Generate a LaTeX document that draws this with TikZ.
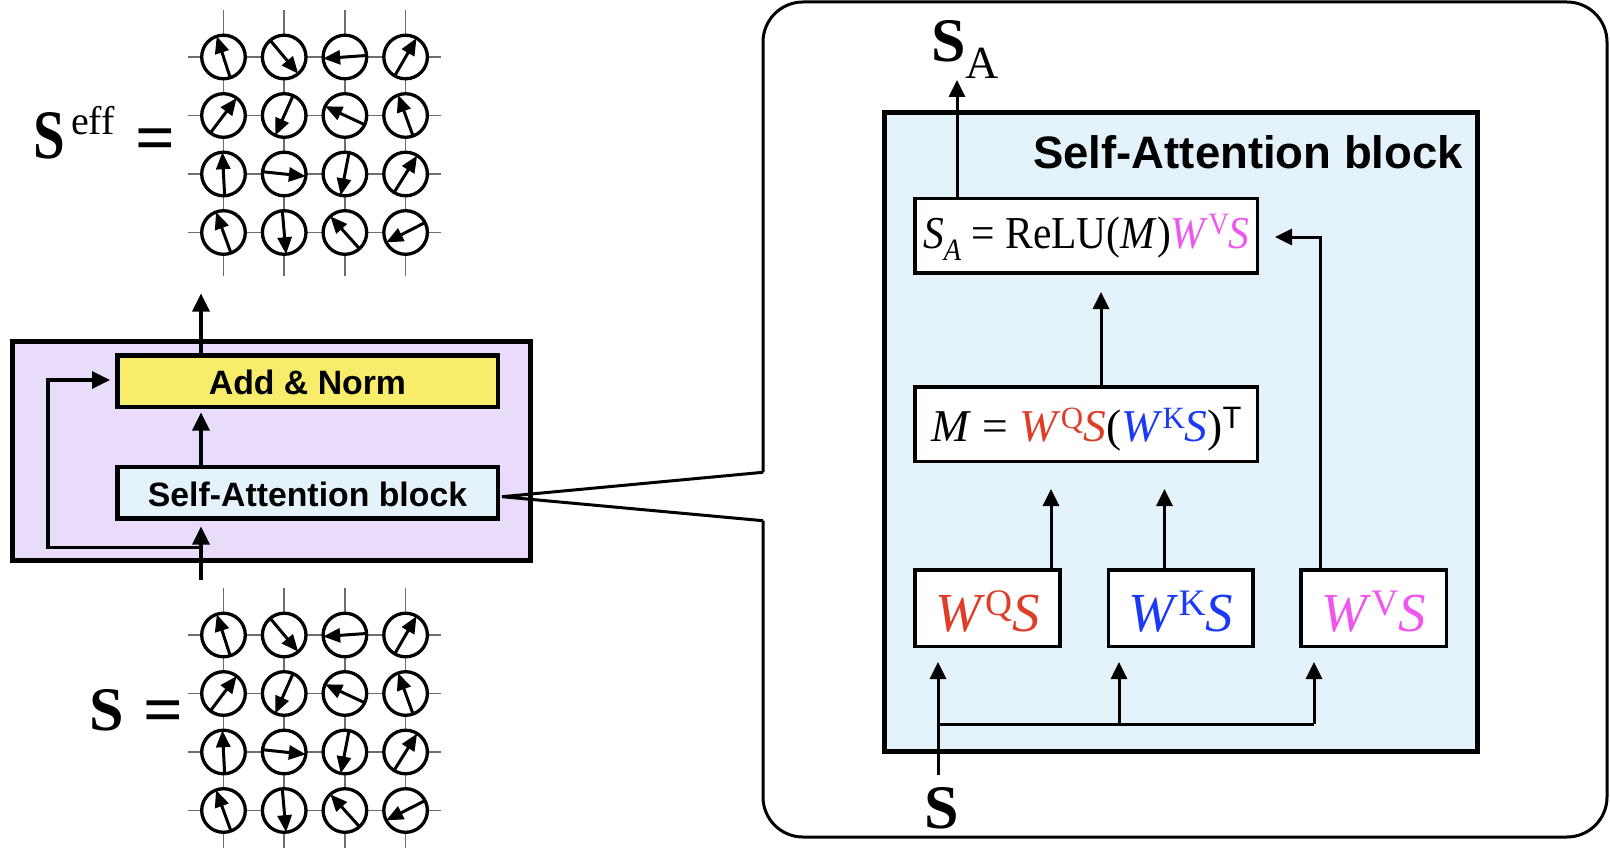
\documentclass[tikz,border=0pt]{standalone}
\usepackage{fontspec}
\setmainfont{Liberation Serif}
\setsansfont{Liberation Sans}
\usetikzlibrary{arrows.meta}

\definecolor{layerfill}{RGB}{233,219,250}
\definecolor{blockfill}{RGB}{228,242,252}
\definecolor{normfill}{RGB}{248,236,107}
\definecolor{qred}{RGB}{222,62,40}
\definecolor{kblue}{RGB}{26,58,245}
\definecolor{vmag}{RGB}{238,86,238}
\definecolor{gridgray}{RGB}{110,110,110}

\newcommand\fsz[1]{\fontsize{#1}{#1}\selectfont}
\newcommand\upidx[1]{\raisebox{0.3em}{\scalebox{0.68}{#1}}}
\newcommand\dnidx[1]{\raisebox{-0.26em}{\scalebox{0.68}{#1}}}

% 4x4 lattice of spins; #1 = y of the first row
\newcommand\spingrid[1]{%
  \foreach \c in {0,1,2,3} {
    \draw[gridline] ({223.5+60.7*\c},{#1-47}) -- ({223.5+60.7*\c},{#1+175.5+43});
  }
  \foreach \r in {0,1,2,3} {
    \draw[gridline] (188,{#1+58.5*\r}) -- (441,{#1+58.5*\r});
  }
  \foreach \r/\angs in {0/{108,-50,184,60},1/{53,246,155,110},2/{93,-6,259,58},3/{110,275,132,207}} {
    \foreach \a [count=\c from 0] in \angs {
      \pgfmathsetmacro\b{\a+180}
      \begin{scope}[shift={({223.5+60.7*\c},{#1+58.5*\r})}]
        \draw[spinring] (0,0) circle[radius=21.8pt];
        \draw[spinarrow] (\b:21.8pt) -- (\a:21.8pt);
      \end{scope}
    }
  }
}

\begin{document}
\begin{tikzpicture}[x=1pt,y=-1pt,
  every node/.style={inner sep=0pt, outer sep=0pt},
  gridline/.style={draw=gridgray, line width=1.6pt},
  spinring/.style={draw=black, fill=white, line width=3.3pt},
  spinarrow/.style={line width=3pt, -{Triangle[length=17pt,width=14pt]}},
  lconn/.style={line width=3.4pt},
  larr/.style={lconn, -{Triangle[length=18pt,width=17pt]}},
  rconn/.style={line width=3pt},
  rarr/.style={rconn, -{Triangle[length=17pt,width=16pt]}},
  leftbox/.style={draw, line width=4.5pt, minimum width=380.5, minimum height=51.5,
    text height=27pt, text depth=0pt, font=\sffamily\bfseries\fsz{33.8}},
  calcbox/.style={draw, line width=3.5pt, fill=white, text depth=0pt},
]
\useasboundingbox (0,0) rectangle (1610,848);

% ---------- spin configurations ----------
\spingrid{57}
\spingrid{635}

\node[anchor=base west] (seffS) at (34,158.3) {\scalebox{0.92}[1.12]{\bfseries\fsz{62}S}};
\node[anchor=base west] (seffsup) at (71,135) {\fsz{40}eff};
\node[anchor=base] (seffeq) at (155,161) {\bfseries\fsz{70}=};
\node[anchor=base west] (sS) at (89,730) {\bfseries\fsz{62}S};
\node[anchor=base] (seq) at (163,733.5) {\bfseries\fsz{70}=};

% ---------- transformer layer ----------
\node[draw, line width=5.5pt, fill=layerfill, minimum width=518, minimum height=219] (layer) at (271.5,451) {};
\node[leftbox, fill=normfill] (anorm) at (307.5,381.3) {Add \& Norm};
\node[leftbox, fill=blockfill] (sablk) at (307.5,492.5) {Self-Attention block};

\coordinate (lx) at (201,0);
\coordinate (ltop) at (201,293.5);
\coordinate (lnormin) at (201,412.5);
\coordinate (lsain) at (201,526.5);
\coordinate (lbot) at (201,580);
\coordinate (lsplit) at (201,547.5);
\coordinate (lloopb) at (48,547.5);
\coordinate (lloopt) at (48,380);
\coordinate (lnormside) at (110,380);

\draw[larr] (anorm.north -| lx) -- (ltop);
\draw[larr] (sablk.north -| lx) -- (lnormin);
\draw[larr] (lbot) -- (lsain);
\draw[larr] (lsplit) -- (lloopb) -- (lloopt) -- (lnormside);

% ---------- zoomed view of the attention block ----------
\coordinate (cu) at (763,472.3);
\coordinate (cl) at (763,520.7);
\coordinate (ctip) at (502,496.7);
\draw[line width=3pt, rounded corners=40pt] (cl) -- (763,837) -- (1607,837) -- (1607,2) -- (763,2) -- (cu);
\draw[line width=3pt, line join=miter] (cu) -- (ctip) -- (cl);

\node[draw, line width=5pt, fill=blockfill, minimum width=593.3, minimum height=638] (attn) at (1180.85,432) {};
\node[anchor=base east, font=\sffamily\bfseries\fsz{45.5}] (attntitle) at (1463,168) {Self-Attention block};

\node[calcbox, minimum width=342.4, minimum height=74.7, text height=24.9pt] (sa) at (1086.4,235.85)
  {\scalebox{1}[1.1]{\fsz{41.5}\textit{S}\dnidx{\textit{A}}\hspace{0.25em}=\hspace{0.25em}ReLU(\textit{M})\textcolor{vmag}{\textit{W}\upidx{V}\textit{S}}}};
\node[calcbox, minimum width=342.4, minimum height=74.8, text height=35pt] (m) at (1086.4,424.15)
  {\fsz{45.5}\textit{M}\hspace{0.25em}=\hspace{0.25em}\textcolor{qred}{\textit{W}\upidx{Q}\textit{S}}(\textcolor{kblue}{\textit{W}\upidx{K}\textit{S}})\upidx{\sffamily T}};
\node[calcbox, minimum width=144.7, minimum height=76.5, text height=46.8pt] (wq) at (987.5,608.3)
  {\fsz{55}\color{qred}\textit{W}\upidx{Q}\textit{S}};
\node[calcbox, minimum width=144.7, minimum height=76.5, text height=46.8pt] (wk) at (1180.8,608.3)
  {\fsz{55}\color{kblue}\textit{W}\upidx{K}\textit{S}};
\node[calcbox, minimum width=145.8, minimum height=76.5, text height=46.8pt] (wv) at (1373.7,608.3)
  {\fsz{55}\color{vmag}\textit{W}\upidx{V}\textit{S}};

\node[anchor=base west] (saout) at (931,61.7) {\bfseries\fsz{62}S\raisebox{-16.6pt}{\mdseries\fsz{46}A}};
\node[anchor=base west] (sin) at (924,828) {\bfseries\fsz{62}S};

\coordinate (xout) at (957,80);
\coordinate (xm) at (1101,292);
\coordinate (vcorner) at (1320,237);
\coordinate (vtip) at (1275,237);
\coordinate (xq) at (1051,489);
\coordinate (xk) at (1164.5,489);
\coordinate (sbot) at (938,775);
\coordinate (sbranch) at (938,724);
\coordinate (qin) at (938,662);
\coordinate (kin) at (1119,662);
\coordinate (vin) at (1314,662);

\draw[rarr] (sa.north -| xout) -- (xout);
\draw[rarr] (m.north -| xm) -- (xm);
\draw[rarr] (wv.north -| vcorner) -- (vcorner) -- (vtip);
\draw[rarr] (wq.north -| xq) -- (xq);
\draw[rarr] (wk.north -| xk) -- (xk);
\draw[rarr] (sbot) -- (qin);
\draw[rconn] (sbranch) -- (sbranch -| vin);
\draw[rarr] (sbranch -| kin) -- (kin);
\draw[rarr] (sbranch -| vin) -- (vin);
\end{tikzpicture}
\end{document}
